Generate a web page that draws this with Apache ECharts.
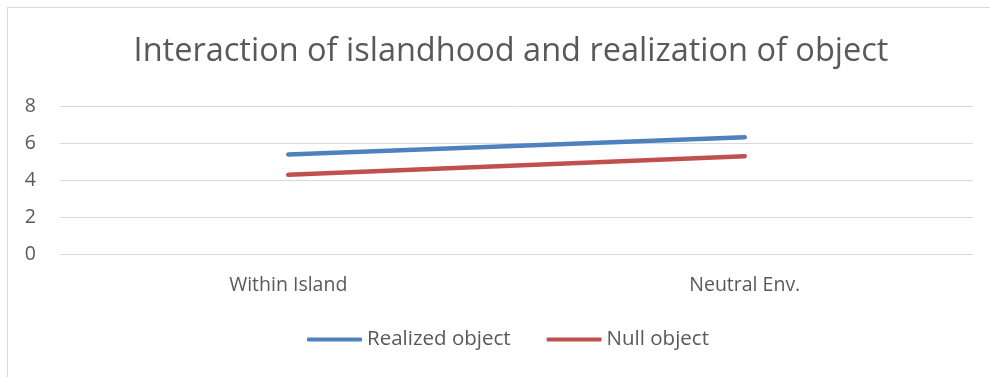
<!DOCTYPE html>
<html><head><meta charset="utf-8">
<script src="https://cdn.jsdelivr.net/npm/echarts@6/dist/echarts.min.js"></script>
<style>
html,body{margin:0;padding:0;background:#fff;}
#frame{position:absolute;left:7px;top:7px;width:990px;height:369px;border-left:1px solid #d9d9d9;border-top:1px solid #d9d9d9;border-bottom:1px solid #d9d9d9;}
#c{position:absolute;left:0;top:0;width:990px;height:377px;}
</style></head>
<body>
<div id="frame"></div>
<div id="c"></div>
<script>
const categories = ["Within Island", "Neutral Env."];
const realizedObject = [5.38, 6.31];
const nullObject = [4.28, 5.29];
const yTicks = [0, 2, 4, 6, 8];

const chart = echarts.init(document.getElementById('c'));
const font = '"Open Sans", "Liberation Sans", sans-serif';
chart.setOption({
  animation: false,
  title: {
    text: 'Interaction of islandhood and realization of object',
    left: 506, top: 30, textAlign: 'center',
    textStyle: {fontFamily: font, fontSize: 32.5, fontWeight: 'normal', color: '#595959'}
  },
  legend: {
    left: 302, top: 324,
    itemWidth: 55, itemHeight: 4, itemGap: 36,
    icon: 'roundRect',
    textStyle: {fontFamily: font, fontSize: 20.5, color: '#595959'},
    data: ['Realized object', 'Null object']
  },
  grid: {left: 60, right: 17, top: 106, bottom: 123, containLabel: false},
  xAxis: {
    type: 'category', data: categories, boundaryGap: true,
    axisLine: {show: false}, axisTick: {show: false},
    axisLabel: {fontFamily: font, fontSize: 19.5, color: '#595959', margin: 21}
  },
  yAxis: {
    type: 'value', min: yTicks[0], max: yTicks[yTicks.length-1], interval: 2,
    axisLine: {show: false}, axisTick: {show: false},
    axisLabel: {fontFamily: font, fontSize: 19.5, color: '#595959', margin: 24},
    splitLine: {lineStyle: {color: '#d9d9d9', width: 1}}
  },
  series: [
    {name: 'Realized object', type: 'line', data: realizedObject, symbol: 'none',
     lineStyle: {color: '#4F81BD', width: 4.5, cap: 'round'}, itemStyle: {color: '#4F81BD'}},
    {name: 'Null object', type: 'line', data: nullObject, symbol: 'none',
     lineStyle: {color: '#C0504D', width: 4.5, cap: 'round'}, itemStyle: {color: '#C0504D'}}
  ]
});
</script>
</body></html>
